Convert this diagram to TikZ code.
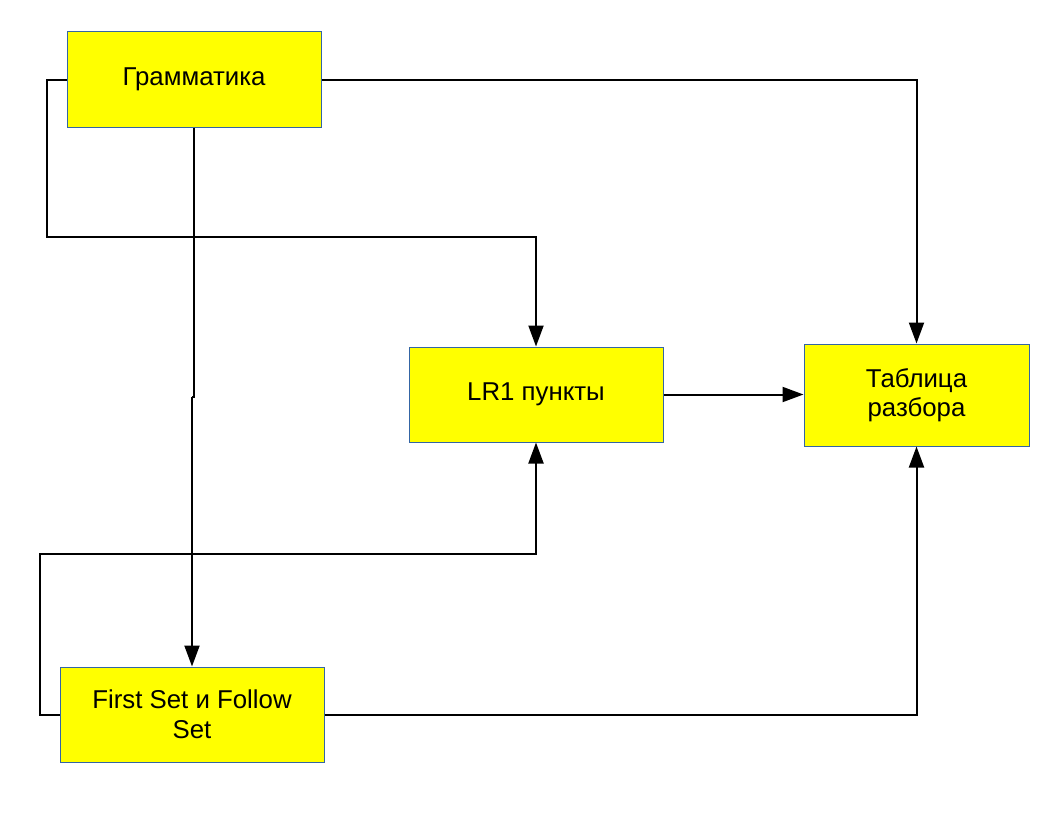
\documentclass[tikz,border=0pt]{standalone}
\usepackage{fontspec}
\setmainfont{Liberation Sans}
\usetikzlibrary{arrows.meta}
\definecolor{boxborder}{RGB}{52,101,164}
\definecolor{boxfill}{RGB}{255,255,0}
\begin{document}
\begin{tikzpicture}[x=1pt,y=-1pt,
  blk/.style={draw=boxborder, line width=1pt, fill=boxfill, inner sep=0pt, align=center, font=\fontsize{25.8}{29.5}\selectfont},
  conn/.style={line width=2pt, -{Triangle[width=15pt,length=21pt]}},
  plain/.style={line width=2pt}]
\useasboundingbox (0,0) rectangle (1056,816);
\node[blk, minimum width=254pt, minimum height=95pt] (gram) at (194,79.5) {Грамматика};
\node[blk, minimum width=254pt, minimum height=95pt] (lr) at (536,394.5) {LR1 пункты};
\node[blk, minimum width=225pt, minimum height=102pt] (tab) at (916.5,395) {Таблица\\разбора};
\node[blk, minimum width=264pt, minimum height=95pt] (fs) at (192,714.5) {First Set и Follow\\Set};
\coordinate (j1) at (194,397);
\coordinate (j2) at (192,397);
\draw[conn] (gram.west) -- (47,79.5) -- (47,237) -| (lr.north);
\draw[conn] (gram.east) -| (tab.north);
\draw[plain] (gram.south) -- (j1) -- (j2);
\draw[conn] (j2) -- (fs.north);
\draw[conn] (lr.east) -- (tab.west |- lr.east);
\draw[conn] (fs.west) -- (40,714.5) -- (40,554) -| (lr.south);
\draw[conn] (fs.east) -| (tab.south);
\end{tikzpicture}
\end{document}
